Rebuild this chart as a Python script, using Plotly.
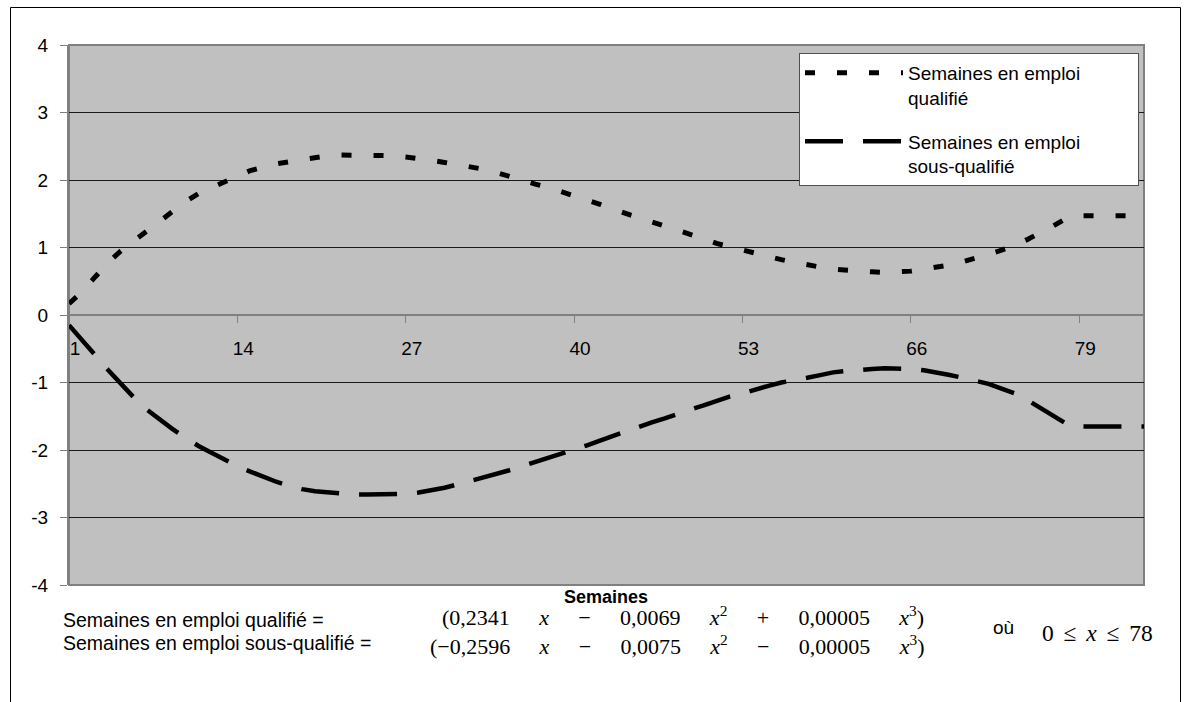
import plotly.graph_objects as go

# ---------------- data ----------------
weeks = list(range(1, 85))

qualifie = [
    0.17, 0.34, 0.56, 0.77, 0.95, 1.10, 1.25, 1.40, 1.55, 1.68,
    1.80, 1.89, 1.98, 2.07, 2.14, 2.19, 2.24, 2.27, 2.30, 2.33,
    2.36, 2.37, 2.37, 2.37, 2.37, 2.36, 2.34, 2.32, 2.29, 2.26,
    2.23, 2.20, 2.16, 2.11, 2.05, 1.99, 1.94, 1.89, 1.83, 1.77,
    1.71, 1.64, 1.57, 1.50, 1.44, 1.38, 1.32, 1.25, 1.19, 1.13,
    1.06, 1.01, 0.96, 0.91, 0.86, 0.82, 0.78, 0.74, 0.71, 0.68,
    0.66, 0.65, 0.64, 0.63, 0.64, 0.65, 0.68, 0.71, 0.74, 0.79,
    0.84, 0.90, 0.96, 1.03, 1.12, 1.21, 1.32, 1.43, 1.47, 1.47,
    1.47, 1.47, 1.47, 1.47,
]

sous_qualifie = [
    -0.15, -0.36, -0.59, -0.81, -1.02, -1.22, -1.40, -1.55, -1.69, -1.82,
    -1.94, -2.04, -2.14, -2.24, -2.32, -2.40, -2.47, -2.53, -2.58, -2.61,
    -2.63, -2.65, -2.66, -2.66, -2.66, -2.66, -2.65, -2.63, -2.60, -2.56,
    -2.51, -2.46, -2.41, -2.35, -2.30, -2.24, -2.18, -2.12, -2.06, -2.00,
    -1.93, -1.86, -1.79, -1.72, -1.65, -1.59, -1.53, -1.46, -1.40, -1.34,
    -1.27, -1.21, -1.16, -1.10, -1.05, -1.00, -0.97, -0.93, -0.89, -0.85,
    -0.83, -0.81, -0.80, -0.79, -0.79, -0.80, -0.82, -0.85, -0.89, -0.93,
    -0.97, -1.02, -1.09, -1.16, -1.26, -1.38, -1.50, -1.61, -1.65, -1.65,
    -1.65, -1.65, -1.65, -1.65,
]

x_tick_vals = [1, 14, 27, 40, 53, 66, 79]
x_tick_text = ["1", "14", "27", "40", "53", "66", "79"]
y_tick_vals = [-4, -3, -2, -1, 0, 1, 2, 3, 4]
y_tick_text = ["-4", "-3", "-2", "-1", "0", "1", "2", "3", "4"]

pad_nb = "\u00a0" * 10
name_q = "Semaines en emploi" + pad_nb + "<br>qualifié"
name_sq = "Semaines en emploi" + pad_nb + "<br>sous-qualifié"

# ---------------- layout helpers ----------------
W, H = 1191, 702
L, R, T, B = 69, 1144, 45, 585  # plot-area pixel box


def px_x(p):
    return (p - L) / (R - L)


def px_y(p):
    return (B - p) / (B - T)


SANS = "Liberation Sans, Arial, sans-serif"
SERIF = "Liberation Serif, Times New Roman, serif"

fig = go.Figure()
fig.add_trace(go.Scatter(
    x=weeks, y=qualifie, mode="lines", name=name_q,
    legendgroup="q",
    line=dict(color="black", width=5, dash="10px,22px"),
))
fig.add_trace(go.Scatter(
    x=weeks, y=sous_qualifie, mode="lines", name=name_sq,
    legendgroup="sq",
    line=dict(color="black", width=4.5, dash="38px,20px"),
))

fig.update_layout(
    width=W, height=H, autosize=False,
    margin=dict(l=L, r=W - R, t=T, b=H - B, pad=0),
    paper_bgcolor="white", plot_bgcolor="#C0C0C0",
    font=dict(family=SANS, size=19, color="black"),
    showlegend=True,
    legend=dict(
        x=px_x(799), y=px_y(53), xanchor="left", yanchor="top",
        bgcolor="white", bordercolor="#505050", borderwidth=1,
        font=dict(family=SANS, size=19, color="black"),
        traceorder="grouped", tracegroupgap=16, valign="top",
        itemwidth=98,
    ),
    xaxis=dict(
        range=[1, 84], anchor="free", position=0.5,
        tickmode="array", tickvals=x_tick_vals, ticktext=x_tick_text,
        ticks="outside", ticklen=7, tickcolor="#808080", tickwidth=1,
        showline=True, linecolor="#808080", linewidth=2,
        showgrid=False, zeroline=False,
        ticklabelshift=6, ticklabelstandoff=9,
        tickfont=dict(family=SANS, size=19),
    ),
    yaxis=dict(
        range=[-4, 4],
        tickmode="array", tickvals=y_tick_vals, ticktext=y_tick_text,
        ticks="outside", ticklen=7, tickcolor="#808080", tickwidth=1,
        showline=True, linecolor="#808080", linewidth=2,
        showgrid=True, gridcolor="#1a1a1a", gridwidth=1,
        zeroline=False, ticklabelstandoff=8,
        tickfont=dict(family=SANS, size=19),
    ),
)

# plot-area border and outer chart border
fig.add_shape(type="rect", xref="paper", yref="paper", x0=0, x1=1, y0=0, y1=1,
              line=dict(color="#808080", width=2), layer="between")
fig.add_shape(type="rect", xref="paper", yref="paper",
              x0=px_x(10.5), x1=px_x(1180.5), y0=px_y(720), y1=px_y(7.5),
              line=dict(color="black", width=1), layer="below")

# axis title and formula text
fig.add_annotation(text="<b>Semaines</b>", xref="paper", yref="paper",
                   x=px_x(606), y=px_y(597), xanchor="center", yanchor="middle",
                   showarrow=False, font=dict(family=SANS, size=18))
fig.add_annotation(text="Semaines en emploi qualifié =", xref="paper", yref="paper",
                   x=px_x(61), y=px_y(619.5), xanchor="left", yanchor="middle",
                   showarrow=False, font=dict(family=SANS, size=19.5))
fig.add_annotation(text="Semaines en emploi sous-qualifié =", xref="paper", yref="paper",
                   x=px_x(61), y=px_y(643), xanchor="left", yanchor="middle",
                   showarrow=False, font=dict(family=SANS, size=19.5))

sp = "\u2003\u2004"
f1 = ("(0,2341" + sp + "<i>x</i>" + sp + "−" + sp + "0,0069" + sp + "<i>x</i><sup>2</sup>"
      + sp + "+" + sp + "0,00005" + sp + "<i>x</i><sup>3</sup>)")
f2 = ("(−0,2596" + sp + "<i>x</i>" + sp + "−" + sp + "0,0075" + sp + "<i>x</i><sup>2</sup>"
      + sp + "−" + sp + "0,00005" + sp + "<i>x</i><sup>3</sup>)")
fig.add_annotation(text=f1, xref="paper", yref="paper",
                   x=px_x(926), y=px_y(616), xanchor="right", yanchor="middle",
                   showarrow=False, font=dict(family=SERIF, size=22))
fig.add_annotation(text=f2, xref="paper", yref="paper",
                   x=px_x(926), y=px_y(645), xanchor="right", yanchor="middle",
                   showarrow=False, font=dict(family=SERIF, size=22))
fig.add_annotation(text="où", xref="paper", yref="paper",
                   x=px_x(1003), y=px_y(627), xanchor="center", yanchor="middle",
                   showarrow=False, font=dict(family=SANS, size=19))
gap = "\u2004\u200a"
fig.add_annotation(text="0" + gap + "≤" + gap + "<i>x</i>" + gap + "≤" + gap + "78",
                   xref="paper", yref="paper",
                   x=px_x(1040), y=px_y(633), xanchor="left", yanchor="middle",
                   showarrow=False, font=dict(family=SERIF, size=23.5))

fig.write_html("out.html")
